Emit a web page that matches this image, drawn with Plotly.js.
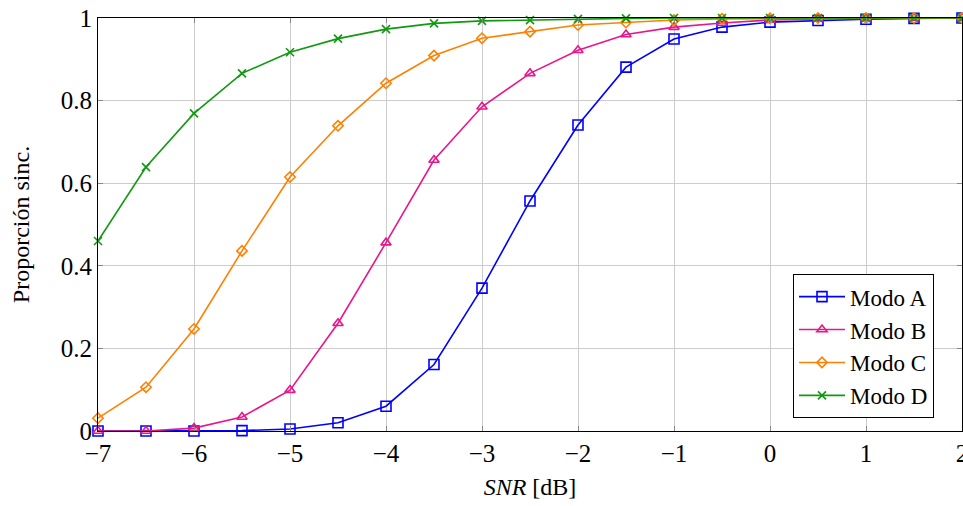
<!DOCTYPE html>
<html>
<head>
<meta charset="utf-8">
<script src="https://cdn.plot.ly/plotly-3.0.1.min.js"></script>
<style>
html,body{margin:0;padding:0;background:#fff;}
#chart{width:963px;height:506px;}
#chart text{font-family:'Liberation Serif', serif !important;}
</style>
</head>
<body>
<div id="chart"></div>
<script>
const snr = [-7, -6.5, -6, -5.5, -5, -4.5, -4, -3.5, -3, -2.5, -2, -1.5, -1, -0.5, 0, 0.5, 1, 1.5, 2];
const modoA = [0, 0, 0, 0.001, 0.005, 0.02, 0.06, 0.161, 0.346, 0.557, 0.741, 0.881, 0.949, 0.978, 0.99, 0.994, 0.997, 0.999, 1];
const modoB = [0, 0, 0.007, 0.034, 0.099, 0.261, 0.456, 0.656, 0.785, 0.866, 0.922, 0.96, 0.978, 0.988, 0.995, 0.998, 0.999, 1, 1];
const modoC = [0.031, 0.106, 0.247, 0.436, 0.615, 0.739, 0.842, 0.909, 0.951, 0.967, 0.983, 0.989, 0.995, 0.998, 0.999, 1, 1, 1, 1];
const modoD = [0.46, 0.639, 0.769, 0.866, 0.917, 0.95, 0.973, 0.987, 0.993, 0.995, 0.998, 0.999, 1, 1, 1, 1, 1, 1, 1];
const names = ['Modo A', 'Modo B', 'Modo C', 'Modo D'];
const xTickVals = [-7, -6, -5, -4, -3, -2, -1, 0, 1, 2];
const xTickText = ['\u22127', '\u22126', '\u22125', '\u22124', '\u22123', '\u22122', '\u22121', '0', '1', '2'];
const yTickVals = [0, 0.2, 0.4, 0.6, 0.8, 1];
const yTickText = ['0', '0.2', '0.4', '0.6', '0.8', '1'];

const FONT = 'Liberation Serif';
const styles = [
  {color: '#0000ff', symbol: 'square-open', size: 10},
  {color: '#e8168c', symbol: 'triangle-up-open', size: 9},
  {color: '#ff8000', symbol: 'diamond-open', size: 8},
  {color: '#119911', symbol: 'x-thin-open', size: 8}
];
const series = [modoA, modoB, modoC, modoD];
const traces = series.map((ys, i) => ({
  x: snr, y: ys, name: names[i], type: 'scatter', mode: 'lines+markers',
  line: {color: styles[i].color, width: 1.6},
  marker: {symbol: styles[i].symbol, size: styles[i].size, color: styles[i].color,
           line: {color: styles[i].color, width: 1.6}},
  cliponaxis: false
}));

const axisCommon = {
  showline: true, linecolor: '#000', linewidth: 1, mirror: 'ticks',
  ticks: 'inside', ticklen: 5, tickcolor: '#888', tickwidth: 1,
  showgrid: true, gridcolor: '#cccccc', gridwidth: 1, zeroline: false,
  ticklabeloverflow: 'allow',
  tickfont: {family: FONT, size: 25, color: '#000'}
};
const layout = {
  width: 963, height: 506,
  margin: {l: 98, r: 1, t: 18, b: 75},
  paper_bgcolor: '#fff', plot_bgcolor: '#fff',
  font: {family: FONT, color: '#000', size: 24},
  showlegend: true,
  legend: {x: 0.9676, y: 0.031, xanchor: 'right', yanchor: 'bottom',
           bordercolor: '#000', borderwidth: 1, bgcolor: '#fff',
           font: {family: FONT, size: 23, color: '#000'},
           itemwidth: 46, tracegroupgap: 0},
  xaxis: Object.assign({}, axisCommon, {
    range: [-7, 2], tickvals: xTickVals, ticktext: xTickText,
    title: {text: '<i>SNR</i> [dB]', standoff: 12,
            font: {family: FONT, size: 24, color: '#000'}}
  }),
  yaxis: Object.assign({}, axisCommon, {
    range: [0, 1], tickvals: yTickVals, ticktext: yTickText,
    title: {text: 'Proporción sinc.', standoff: 24,
            font: {family: FONT, size: 24, color: '#000'}}
  })
};
Plotly.newPlot('chart', traces, layout, {displayModeBar: false, responsive: false, staticPlot: true});
</script>
</body>
</html>
